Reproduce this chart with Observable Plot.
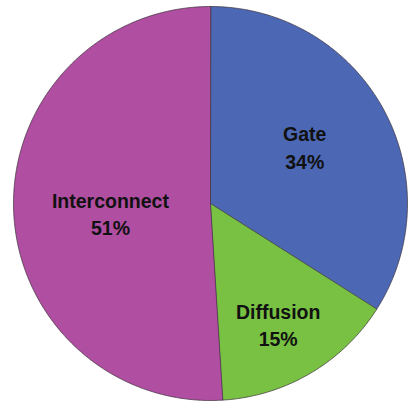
<!DOCTYPE html>
<html>
<head>
<meta charset="utf-8">
<script src="https://cdn.jsdelivr.net/npm/d3@7"></script>
<script src="https://cdn.jsdelivr.net/npm/@observablehq/plot@0.6"></script>
<style>
  html, body { margin: 0; padding: 0; background: #fff; }
  #chart svg { display: block; }
</style>
</head>
<body>
<div id="chart"></div>
<script>
// Power breakdown by component
const categories = ["Gate", "Diffusion", "Interconnect"];
const shares = [34, 15, 51];
const shareLabels = ["34%", "15%", "51%"];

const rows = categories.map((c, i) => ({category: c, share: shares[i], label: shareLabels[i]}));

// Angles: 0 at twelve o'clock, running clockwise
const arcs = d3.pie().sort(null).value(d => d.share)(rows);

// Outline polygon for each slice, in unit-circle coordinates
const points = [];
for (const a of arcs) {
  const cat = a.data.category;
  points.push({category: cat, x: 0, y: 0});
  const steps = Math.max(2, Math.ceil((a.endAngle - a.startAngle) / (Math.PI / 360)));
  for (let k = 0; k <= steps; k++) {
    const t = a.startAngle + (a.endAngle - a.startAngle) * k / steps;
    points.push({category: cat, x: Math.sin(t), y: Math.cos(t)});
  }
}

// Label placement: radius fraction and a small angular nudge (degrees) from the mid angle
const labelPlacement = {
  Gate: {r: 0.56, nudge: -2.5},
  Diffusion: {r: 0.70, nudge: 1.2},
  Interconnect: {r: 0.51, nudge: -3.5}
};
const labelPoints = arcs.map(a => {
  const p = labelPlacement[a.data.category];
  const m = (a.startAngle + a.endAngle) / 2 + p.nudge * Math.PI / 180;
  return {
    text: `${a.data.category}\n${a.data.label}`,
    x: p.r * Math.sin(m),
    y: p.r * Math.cos(m)
  };
});

const chart = Plot.plot({
  width: 408,
  height: 406,
  margin: 0,
  style: {background: "#fff"},
  x: {domain: [-1, 1], range: [13, 407], axis: null},
  y: {domain: [-1, 1], range: [400, 6], axis: null},
  color: {domain: categories, range: ["#4c68b4", "#78c143", "#b04ea1"]},
  marks: [
    Plot.line(points, {
      x: "x", y: "y", z: "category",
      fill: "category",
      stroke: "#3a2f3a",
      strokeOpacity: 0.7,
      strokeWidth: 1,
      curve: "linear-closed"
    }),
    Plot.text(labelPoints, {
      x: "x", y: "y", text: "text",
      fill: "#111",
      fontSize: 19.5,
      fontWeight: "bold",
      fontFamily: "Liberation Sans, Arial, sans-serif",
      lineHeight: 1.4
    })
  ]
});

document.getElementById("chart").appendChild(chart);
</script>
</body>
</html>
